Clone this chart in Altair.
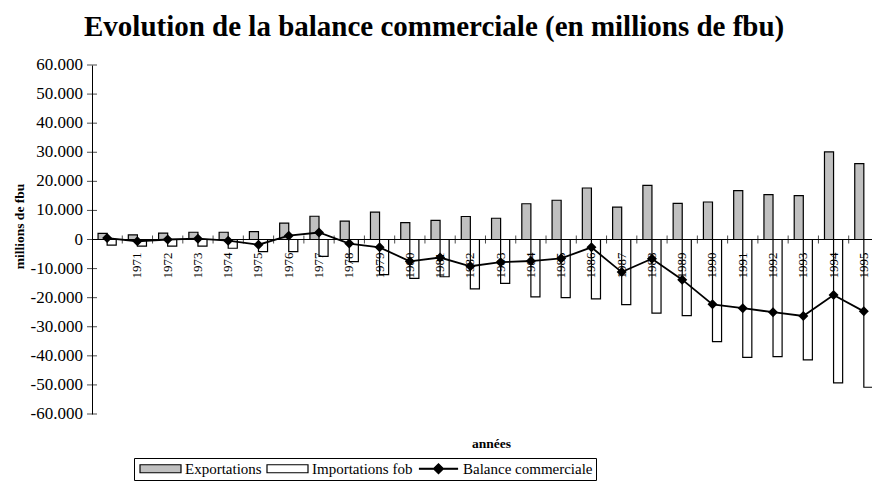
import altair as alt
import pandas as pd

# ---- data ----
years = list(range(1970, 1996))
year_labels = [""] + [str(y) for y in range(1971, 1996)]
exportations = [2100, 1600, 2200, 2500, 2500, 2700, 5600, 8000, 6300, 9400,
                5800, 6600, 7900, 7300, 12300, 13500, 17700, 11100, 18600, 12400,
                12900, 16800, 15400, 15100, 30100, 26100]
importations = [-1900, -2300, -2300, -2300, -3000, -4200, -4200, -5800, -7600, -12100,
                -13400, -12800, -17000, -15100, -19700, -20000, -20400, -22400, -25300, -26200,
                -35100, -40500, -40300, -41400, -49300, -50800]
balance = [500, -600, 0, 300, -400, -1800, 1300, 2400, -1400, -2700,
           -7500, -6200, -9200, -7800, -7400, -6500, -2700, -11200, -6600, -13800,
           -22300, -23600, -25000, -26300, -19100, -24700]
y_ticks = list(range(-60000, 60001, 10000))
series = ["Exportations", "Importations fob", "Balance commerciale"]
series_colors = ["#c0c0c0", "#ffffff", "#000000"]

FONT = "Liberation Serif"
X_DOMAIN = [1969.5, 1995.27]
Y_DOMAIN = [-60000, 60000]

df = pd.DataFrame({"annee": years, "label": year_labels,
                   "exp": exportations, "imp": importations, "bal": balance})
bars_df = pd.concat([
    pd.DataFrame({"annee": years, "serie": series[0], "valeur": exportations}),
    pd.DataFrame({"annee": years, "serie": series[1], "valeur": importations}),
], ignore_index=True)
yticks_df = pd.DataFrame({"v": y_ticks})
legend_df = pd.DataFrame({"serie": series})

xscale = alt.Scale(domain=X_DOMAIN, nice=False, zero=False)
yscale = alt.Scale(domain=Y_DOMAIN, nice=False, zero=False)
fill_scale = alt.Scale(domain=series, range=series_colors)
stroke_scale = alt.Scale(domain=series, range=["black", "black", "black"])

rect_path = "M-4.1,-0.8L4.1,-0.8L4.1,0.8L-4.1,0.8Z"
line_path = "M-3.8,-0.1L3.8,-0.1L3.8,0.1L-3.8,0.1Z M-1,0L0,-1L1,0L0,1Z"
shape_scale = alt.Scale(domain=series, range=[rect_path, rect_path, line_path])

x_axis = alt.Axis(labels=False, ticks=False, domain=False, grid=False,
                  titleX=399, titleY=29, titleBaseline="middle", titleAlign="center",
                  titleFont=FONT, titleFontSize=13.5, titleFontWeight="bold", titleColor="black")
y_axis = alt.Axis(values=y_ticks, grid=False, ticks=False, labels=False,
                  domainColor="black",
                  titleX=-73, titleY=161, titleAngle=270, titleBaseline="middle", titleAlign="center",
                  titleFont=FONT, titleFontSize=13.5, titleFontWeight="bold", titleColor="black")

legend = alt.Legend(
    orient="none", legendX=42, legendY=393, direction="horizontal", title=None,
    strokeColor="black", fillColor="white", padding=3,
    symbolSize=100, symbolStrokeColor="black", symbolStrokeWidth=1.2, symbolOpacity=1,
    symbolOffset=16, labelOffset=17, columnPadding=2,
    labelFont=FONT, labelFontSize=15, labelColor="black",
)


def X(field):
    return alt.X(field, scale=xscale, title="années", axis=x_axis)


def Y(field):
    return alt.Y(field, scale=yscale, title="millions de fbu", axis=y_axis)


bars = alt.Chart(bars_df).transform_calculate(
    x0="datum.annee + (datum.serie === 'Exportations' ? -0.3 : 0)",
    x1="datum.annee + (datum.serie === 'Exportations' ? 0 : 0.3)",
).mark_bar(stroke="black", strokeWidth=1.2, clip=True).encode(
    x=X("x0:Q"), x2="x1:Q",
    y=Y("valeur:Q"), y2=alt.datum(0),
    fill=alt.Fill("serie:N", scale=fill_scale, legend=legend),
)

legend_layer = alt.Chart(legend_df).mark_point(
    filled=False, opacity=0, strokeWidth=1.2, size=100).encode(
    x=alt.datum(years[0]),
    y=alt.datum(0),
    fill=alt.Fill("serie:N", scale=fill_scale, legend=legend),
    stroke=alt.Stroke("serie:N", scale=stroke_scale, legend=legend),
    shape=alt.Shape("serie:N", scale=shape_scale, legend=legend),
)

zero_rule = alt.Chart(df).mark_rule(color="black", strokeWidth=1).encode(
    y=alt.datum(0))

xticks = alt.Chart(df).transform_calculate(b="datum.annee + 0.5").mark_tick(
    orient="vertical", size=8, thickness=1, color="black", clip=True).encode(
    x=X("b:Q"), y=alt.datum(0))

# y-axis: crossing tick marks and the European-formatted labels
ycross = alt.Chart(yticks_df).mark_tick(orient="horizontal", size=10, thickness=1, color="black").encode(
    x=alt.datum(X_DOMAIN[0]), y=Y("v:Q"))

ylabels = alt.Chart(yticks_df).transform_calculate(
    t="(datum.v < 0 ? '-' : '') + replace(format(abs(datum.v), ','), ',', '.')"
).mark_text(align="right", baseline="middle", dx=-9, font=FONT, fontSize=17, color="black").encode(
    x=alt.datum(X_DOMAIN[0]), y=Y("v:Q"), text="t:N")

line = alt.Chart(df).mark_line(color="black", strokeWidth=1.8).encode(
    x=X("annee:Q"), y=Y("bal:Q"))

points = alt.Chart(df).mark_point(shape="diamond", filled=True, size=100, color="black", opacity=1).encode(
    x=X("annee:Q"), y=Y("bal:Q"))

labels = alt.Chart(df).mark_text(angle=270, align="right", baseline="middle", dx=-13,
                                 font=FONT, fontSize=13, color="black").encode(
    x=X("annee:Q"), y=alt.datum(0), text="label:N")

chart = alt.layer(bars, legend_layer, zero_rule, xticks, ycross, ylabels, line, points, labels).properties(
    width=780, height=349,
    background="white",
    title=alt.TitleParams(
        text="Evolution de la balance commerciale (en millions de fbu)",
        font=FONT, fontSize=29, fontWeight="bold", color="black",
        anchor="start", frame="group", dx=-8, dy=28, baseline="alphabetic", offset=19),
    autosize=alt.AutoSizeParams(type="none"),
    padding={"left": 84, "top": 57, "right": 0, "bottom": 68},
).configure_view(stroke=None).configure_axis(grid=False)

chart.save("out.html", embed_options={"renderer": "svg", "actions": False})
